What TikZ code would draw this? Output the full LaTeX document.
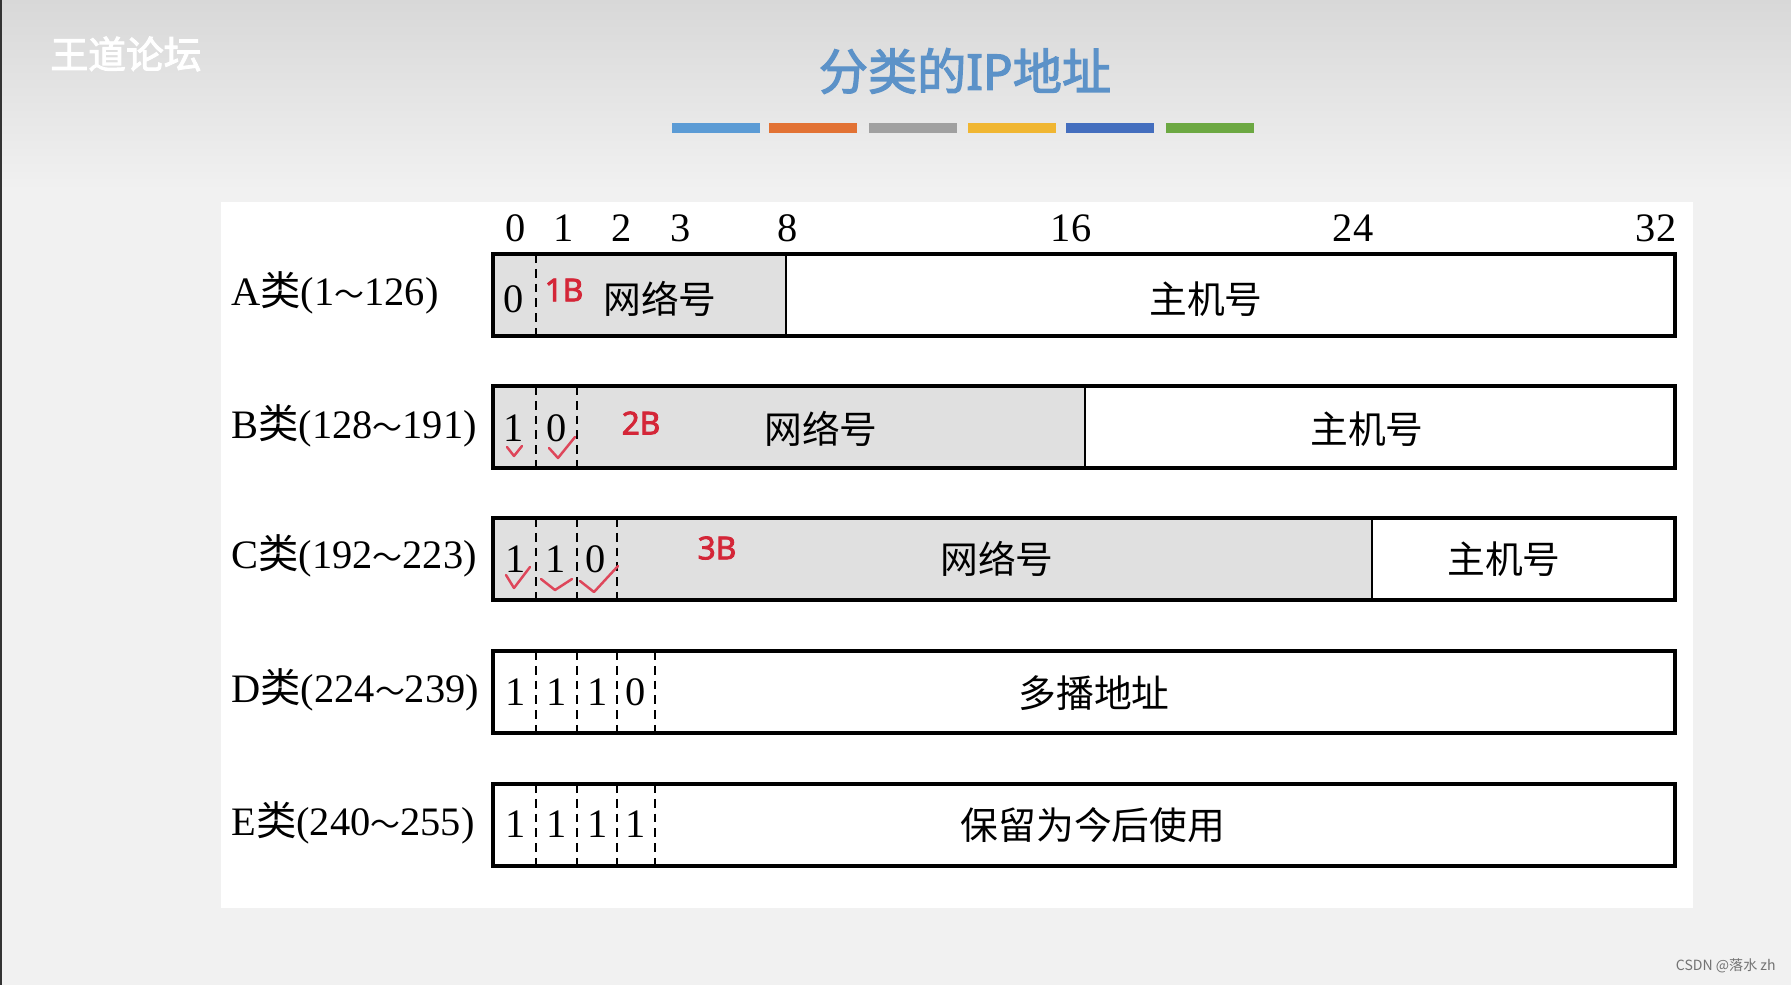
\documentclass[tikz,border=0pt]{standalone}
\usepackage{fontspec}
\setmainfont{Liberation Serif}
\newfontfamily\cjk{Noto Sans CJK SC}
\newfontfamily\cjkb{Noto Sans CJK SC}[FakeBold=2.5]
\newfontfamily\bsans{Noto Sans}[FakeBold=2.5]
\usetikzlibrary{positioning}

\definecolor{titleblue}{RGB}{92,146,200}
\definecolor{netgray}{RGB}{224,224,224}
\definecolor{markred}{RGB}{212,38,56}
\definecolor{tickred}{RGB}{222,70,90}
\definecolor{bgtop}{RGB}{216,216,216}
\definecolor{bgbase}{RGB}{241,241,241}
\definecolor{barblue}{RGB}{91,155,213}
\definecolor{barorange}{RGB}{226,114,52}
\definecolor{bargray}{RGB}{160,160,160}
\definecolor{bargold}{RGB}{240,182,50}
\definecolor{bardblue}{RGB}{68,110,190}
\definecolor{bargreen}{RGB}{108,168,66}

\newcommand{\lei}{{\cjk 类}}
\newcommand{\tl}{{\cjk\fontsize{17}{20}\selectfont ～}}

\begin{document}
\begin{tikzpicture}[x=0.02cm, y=-0.02cm,
  % Text styles
  bitno/.style={font=\fontsize{23}{26}\selectfont, inner sep=0pt},
  cls/.style={font=\fontsize{23}{26}\selectfont, anchor=west, inner sep=0pt},
  fld/.style={font=\cjk\fontsize{21.5}{24}\selectfont, inner sep=0pt},
  bit/.style={font=\fontsize{23}{26}\selectfont, inner sep=0pt},
  nbytes/.style={font=\bsans\fontsize{18}{20}\selectfont, text=markred, inner sep=0pt},
  % Line styles
  frame/.style={line width=2.3pt},
  sep/.style={line width=1.2pt},
  dsep/.style={line width=1.1pt, dash pattern=on 5pt off 3.4pt},
  tick/.style={tickred, line width=1.4pt, line join=round, line cap=round},
  bar/.style={minimum width=88*0.02cm, minimum height=10*0.02cm, inner sep=0pt},
]
\useasboundingbox (0,0) rectangle (1791,985);

% === Background ===
\fill[bgbase] (0,0) rectangle (1791,985);
\shade[top color=bgtop, bottom color=bgbase] (0,0) rectangle (1791,190);
\fill[black!80] (0,0) rectangle (2,985);
\fill[white] (221,202) rectangle (1693,908);

% === Title ===
\node[text=white, font=\cjkb\fontsize{21.5}{24}\selectfont, inner sep=0pt]
  (wm) at (126,54) {王道论坛};
\node[text=titleblue, font=\fontsize{28}{32}\selectfont, inner sep=0pt] (title) at (965,71)
  {{\cjkb 分类的}{\bsans IP}{\cjkb 地址}};

% colour bars
\node[bar, fill=barblue]    (bar1) at (716,128)  {};
\node[bar, fill=barorange]  (bar2) at (813,128)  {};
\node[bar, fill=bargray]    (bar3) at (913,128)  {};
\node[bar, fill=bargold]    (bar4) at (1012,128) {};
\node[bar, fill=bardblue]   (bar5) at (1110,128) {};
\node[bar, fill=bargreen]   (bar6) at (1210,128) {};

% === Bit numbers ===
\node[bitno] (n0)  at (516,228)  {0};
\node[bitno] (n1)  at (564,228)  {1};
\node[bitno] (n2)  at (622,228)  {2};
\node[bitno] (n3)  at (681,228)  {3};
\node[bitno] (n8)  at (788,228)  {8};
\node[bitno] (n16) at (1071,228) {16};
\node[bitno] (n24) at (1353,228) {24};
\node[bitno] (n32) at (1656,228) {32};

% === Class labels ===
\node[cls] (clsA) at (231,293) {A\lei(1\tl126)};
\node[cls] (clsB) at (231,426) {B\lei(128\tl191)};
\node[cls] (clsC) at (231,556) {C\lei(192\tl223)};
\node[cls] (clsD) at (231,690) {D\lei(224\tl239)};
\node[cls] (clsE) at (231,823) {E\lei(240\tl255)};

% === Network parts (grey) ===
\fill[netgray] (493,254) rectangle (786,336);
\fill[netgray] (493,386) rectangle (1085,468);
\fill[netgray] (493,518) rectangle (1372,600);

% === Separators ===
\draw[sep] (786,254) -- (786,336);
\draw[sep] (1085,386) -- (1085,468);
\draw[sep] (1372,518) -- (1372,600);

\draw[dsep] (536,254) -- (536,336);
\foreach \x in {536,577} \draw[dsep] (\x,386) -- (\x,468);
\foreach \x in {536,577,617} \draw[dsep] (\x,518) -- (\x,600);
\foreach \x in {536,577,617,655} {
  \draw[dsep] (\x,651) -- (\x,733);
  \draw[dsep] (\x,784) -- (\x,866);
}

% === Frames ===
\draw[frame] (493,254) rectangle (1675,336);
\draw[frame] (493,386) rectangle (1675,468);
\draw[frame] (493,518) rectangle (1675,600);
\draw[frame] (493,651) rectangle (1675,733);
\draw[frame] (493,784) rectangle (1675,866);

% === Row A ===
\node[bit] (a0) at (514,299) {0};
\node[nbytes] (bA) at (564,290) {1B};
\node[fld] (netA) at (660,299) {网络号};
\node[fld] (hostA) at (1206,299) {主机号};

% === Row B ===
\node[bit] (b0) at (514,428) {1};
\node[bit] (b1) at (557,428) {0};
\node[nbytes] (bB) at (641,423) {2B};
\node[fld] (netB) at (821,429) {网络号};
\node[fld] (hostB) at (1367,429) {主机号};

% === Row C ===
\node[bit] (c0) at (516,559) {1};
\node[bit] (c1) at (556,559) {1};
\node[bit] (c2) at (596,559) {0};
\node[nbytes] (bC) at (717,548) {3B};
\node[fld] (netC) at (997,559) {网络号};
\node[fld] (hostC) at (1504,559) {主机号};

% === Row D ===
\node[bit] (d0) at (516,692) {1};
\node[bit] (d1) at (557,692) {1};
\node[bit] (d2) at (598,692) {1};
\node[bit] (d3) at (636,692) {0};
\node[fld] (mcD) at (1094,693) {多播地址};

% === Row E ===
\node[bit] (e0) at (516,824) {1};
\node[bit] (e1) at (557,824) {1};
\node[bit] (e2) at (598,824) {1};
\node[bit] (e3) at (636,824) {1};
\node[fld] (resE) at (1093,825) {保留为今后使用};

% === Hand-drawn ticks ===
\draw[tick] (507,447) -- (514,456) -- (522,446);
\draw[tick] (549,448) -- (558,458) -- (575,437);
\draw[tick] (506,575) -- (514,588) -- (530,567);
\draw[tick] (541,579) -- (555,590) -- (572,579);
\draw[tick] (580,581) -- (594,592) -- (618,566);

% footer mark
\node[text=black!55, font=\cjk\fontsize{8}{9}\selectfont, anchor=east, inner sep=0pt]
  (csdn) at (1776,966) {CSDN @落水 zh};

\end{tikzpicture}
\end{document}
